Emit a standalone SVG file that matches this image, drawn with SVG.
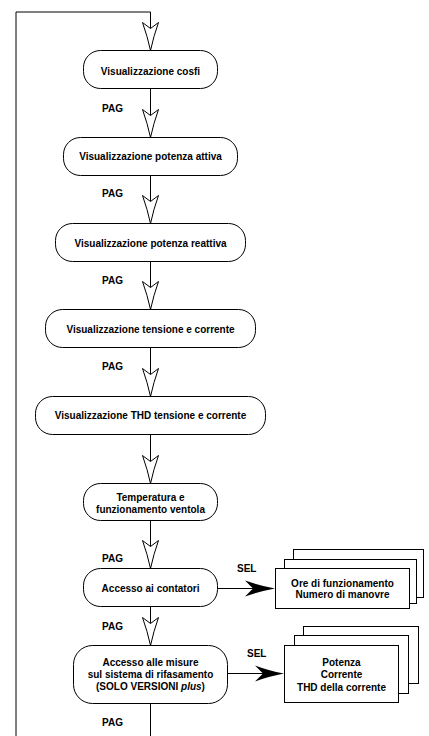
<svg xmlns="http://www.w3.org/2000/svg" width="429" height="736" viewBox="0 0 429 736">
<style>
text{font-family:"Liberation Sans",Arial,Helvetica,sans-serif;font-size:10px;font-weight:bold;fill:#000}
.c{text-anchor:middle}
.node{fill:#fff;stroke:#000;stroke-width:1}
.ln{fill:none;stroke:#000;stroke-width:1}
.oh{fill:#fff;stroke:#000;stroke-width:1;stroke-linejoin:miter}
.fh{fill:#000;stroke:none}
</style>
<defs>
<path id="open" d="M0,0 Q-3,-14 -8,-28 L0,-22 L8,-28 Q3,-14 0,0 Z"/>
</defs>
<rect width="429" height="736" fill="#fff"/>
<g id="connectors">
<path class="ln" d="M16,736 V12 H150.5 V28.5"/>
<line class="ln" x1="150.5" y1="88.5" x2="150.5" y2="115.5"/>
<line class="ln" x1="150.5" y1="175.5" x2="150.5" y2="201.5"/>
<line class="ln" x1="150.5" y1="261.5" x2="150.5" y2="287.5"/>
<line class="ln" x1="150.5" y1="347.5" x2="150.5" y2="374.5"/>
<line class="ln" x1="150.5" y1="434.5" x2="150.5" y2="461.5"/>
<line class="ln" x1="150.5" y1="520.5" x2="150.5" y2="546.5"/>
<line class="ln" x1="150.5" y1="606.5" x2="150.5" y2="623.5"/>
<line class="ln" x1="150.5" y1="703.5" x2="150.5" y2="736"/>
<use href="#open" class="oh" x="150.5" y="50.5"/>
<use href="#open" class="oh" x="150.5" y="137.5"/>
<use href="#open" class="oh" x="150.5" y="223.5"/>
<use href="#open" class="oh" x="150.5" y="309.5"/>
<use href="#open" class="oh" x="150.5" y="396.5"/>
<use href="#open" class="oh" x="150.5" y="483.5"/>
<use href="#open" class="oh" x="150.5" y="568.5"/>
<use href="#open" class="oh" x="150.5" y="645.5"/>
<line class="ln" x1="217.5" y1="588.5" x2="254" y2="588.5"/>
<path class="fh" d="M275,588.5 Q259,585.5 245,580.5 L253,588.5 L245,596.5 Q259,591.5 275,588.5 Z"/>
<line class="ln" x1="227.5" y1="673.5" x2="264" y2="673.5"/>
<path class="fh" d="M284,673.5 Q268,670.5 255,665.5 L263,673.5 L255,681.5 Q268,676.5 284,673.5 Z"/>
<text x="102" y="112">PAG</text>
<text x="102" y="197">PAG</text>
<text x="102" y="284">PAG</text>
<text x="102" y="370">PAG</text>
<text x="102" y="562">PAG</text>
<text x="102" y="629.5">PAG</text>
<text x="102" y="726">PAG</text>
<text x="237" y="572">SEL</text>
<text x="247" y="657">SEL</text>
</g>
<g id="n1"><rect class="node" x="83.5" y="50.5" width="134" height="38" rx="17"/><text class="c" x="150.5" y="75">Visualizzazione cosfi</text></g>
<g id="n2"><rect class="node" x="63.5" y="137.5" width="174" height="38" rx="17"/><text class="c" x="150.5" y="159.5">Visualizzazione potenza attiva</text></g>
<g id="n3"><rect class="node" x="55.5" y="223.5" width="190" height="38" rx="17"/><text class="c" x="150.5" y="246.5">Visualizzazione potenza reattiva</text></g>
<g id="n4"><rect class="node" x="45.5" y="309.5" width="210" height="38" rx="17"/><text class="c" x="150.5" y="332.5">Visualizzazione tensione e corrente</text></g>
<g id="n5"><rect class="node" x="35.5" y="396.5" width="230" height="38" rx="17"/><text class="c" x="150.5" y="419">Visualizzazione THD tensione e corrente</text></g>
<g id="n6"><rect class="node" x="83.5" y="483.5" width="134" height="37" rx="17"/><text class="c" x="150.5" y="500.5">Temperatura e</text><text class="c" x="150.5" y="512.5">funzionamento ventola</text></g>
<g id="n7"><rect class="node" x="83.5" y="568.5" width="134" height="38" rx="17"/><text class="c" x="150.5" y="591.5">Accesso ai contatori</text></g>
<g id="n8"><rect class="node" x="73.5" y="645.5" width="154" height="58" rx="19"/><text class="c" x="150.5" y="666">Accesso alle misure</text><text class="c" x="150.5" y="678">sul sistema di rifasamento</text><text class="c" x="150.5" y="690">(SOLO VERSIONI <tspan font-style="italic">plus</tspan>)</text></g>
<g id="s1">
<rect class="node" x="293.5" y="549.5" width="130" height="48"/>
<rect class="node" x="284.5" y="559.5" width="132" height="44"/>
<rect class="node" x="275.5" y="568.5" width="134" height="40"/>
<text class="c" x="342.5" y="586.5">Ore di funzionamento</text>
<text class="c" x="342.5" y="598">Numero di manovre</text>
</g>
<g id="s2">
<rect class="node" x="303.5" y="626.5" width="115" height="57"/>
<rect class="node" x="294.5" y="635.5" width="114" height="58"/>
<rect class="node" x="284.5" y="645.5" width="114" height="57"/>
<text class="c" x="341.5" y="666">Potenza</text>
<text class="c" x="341.5" y="678">Corrente</text>
<text class="c" x="341.5" y="690.5">THD della corrente</text>
</g>
</svg>
